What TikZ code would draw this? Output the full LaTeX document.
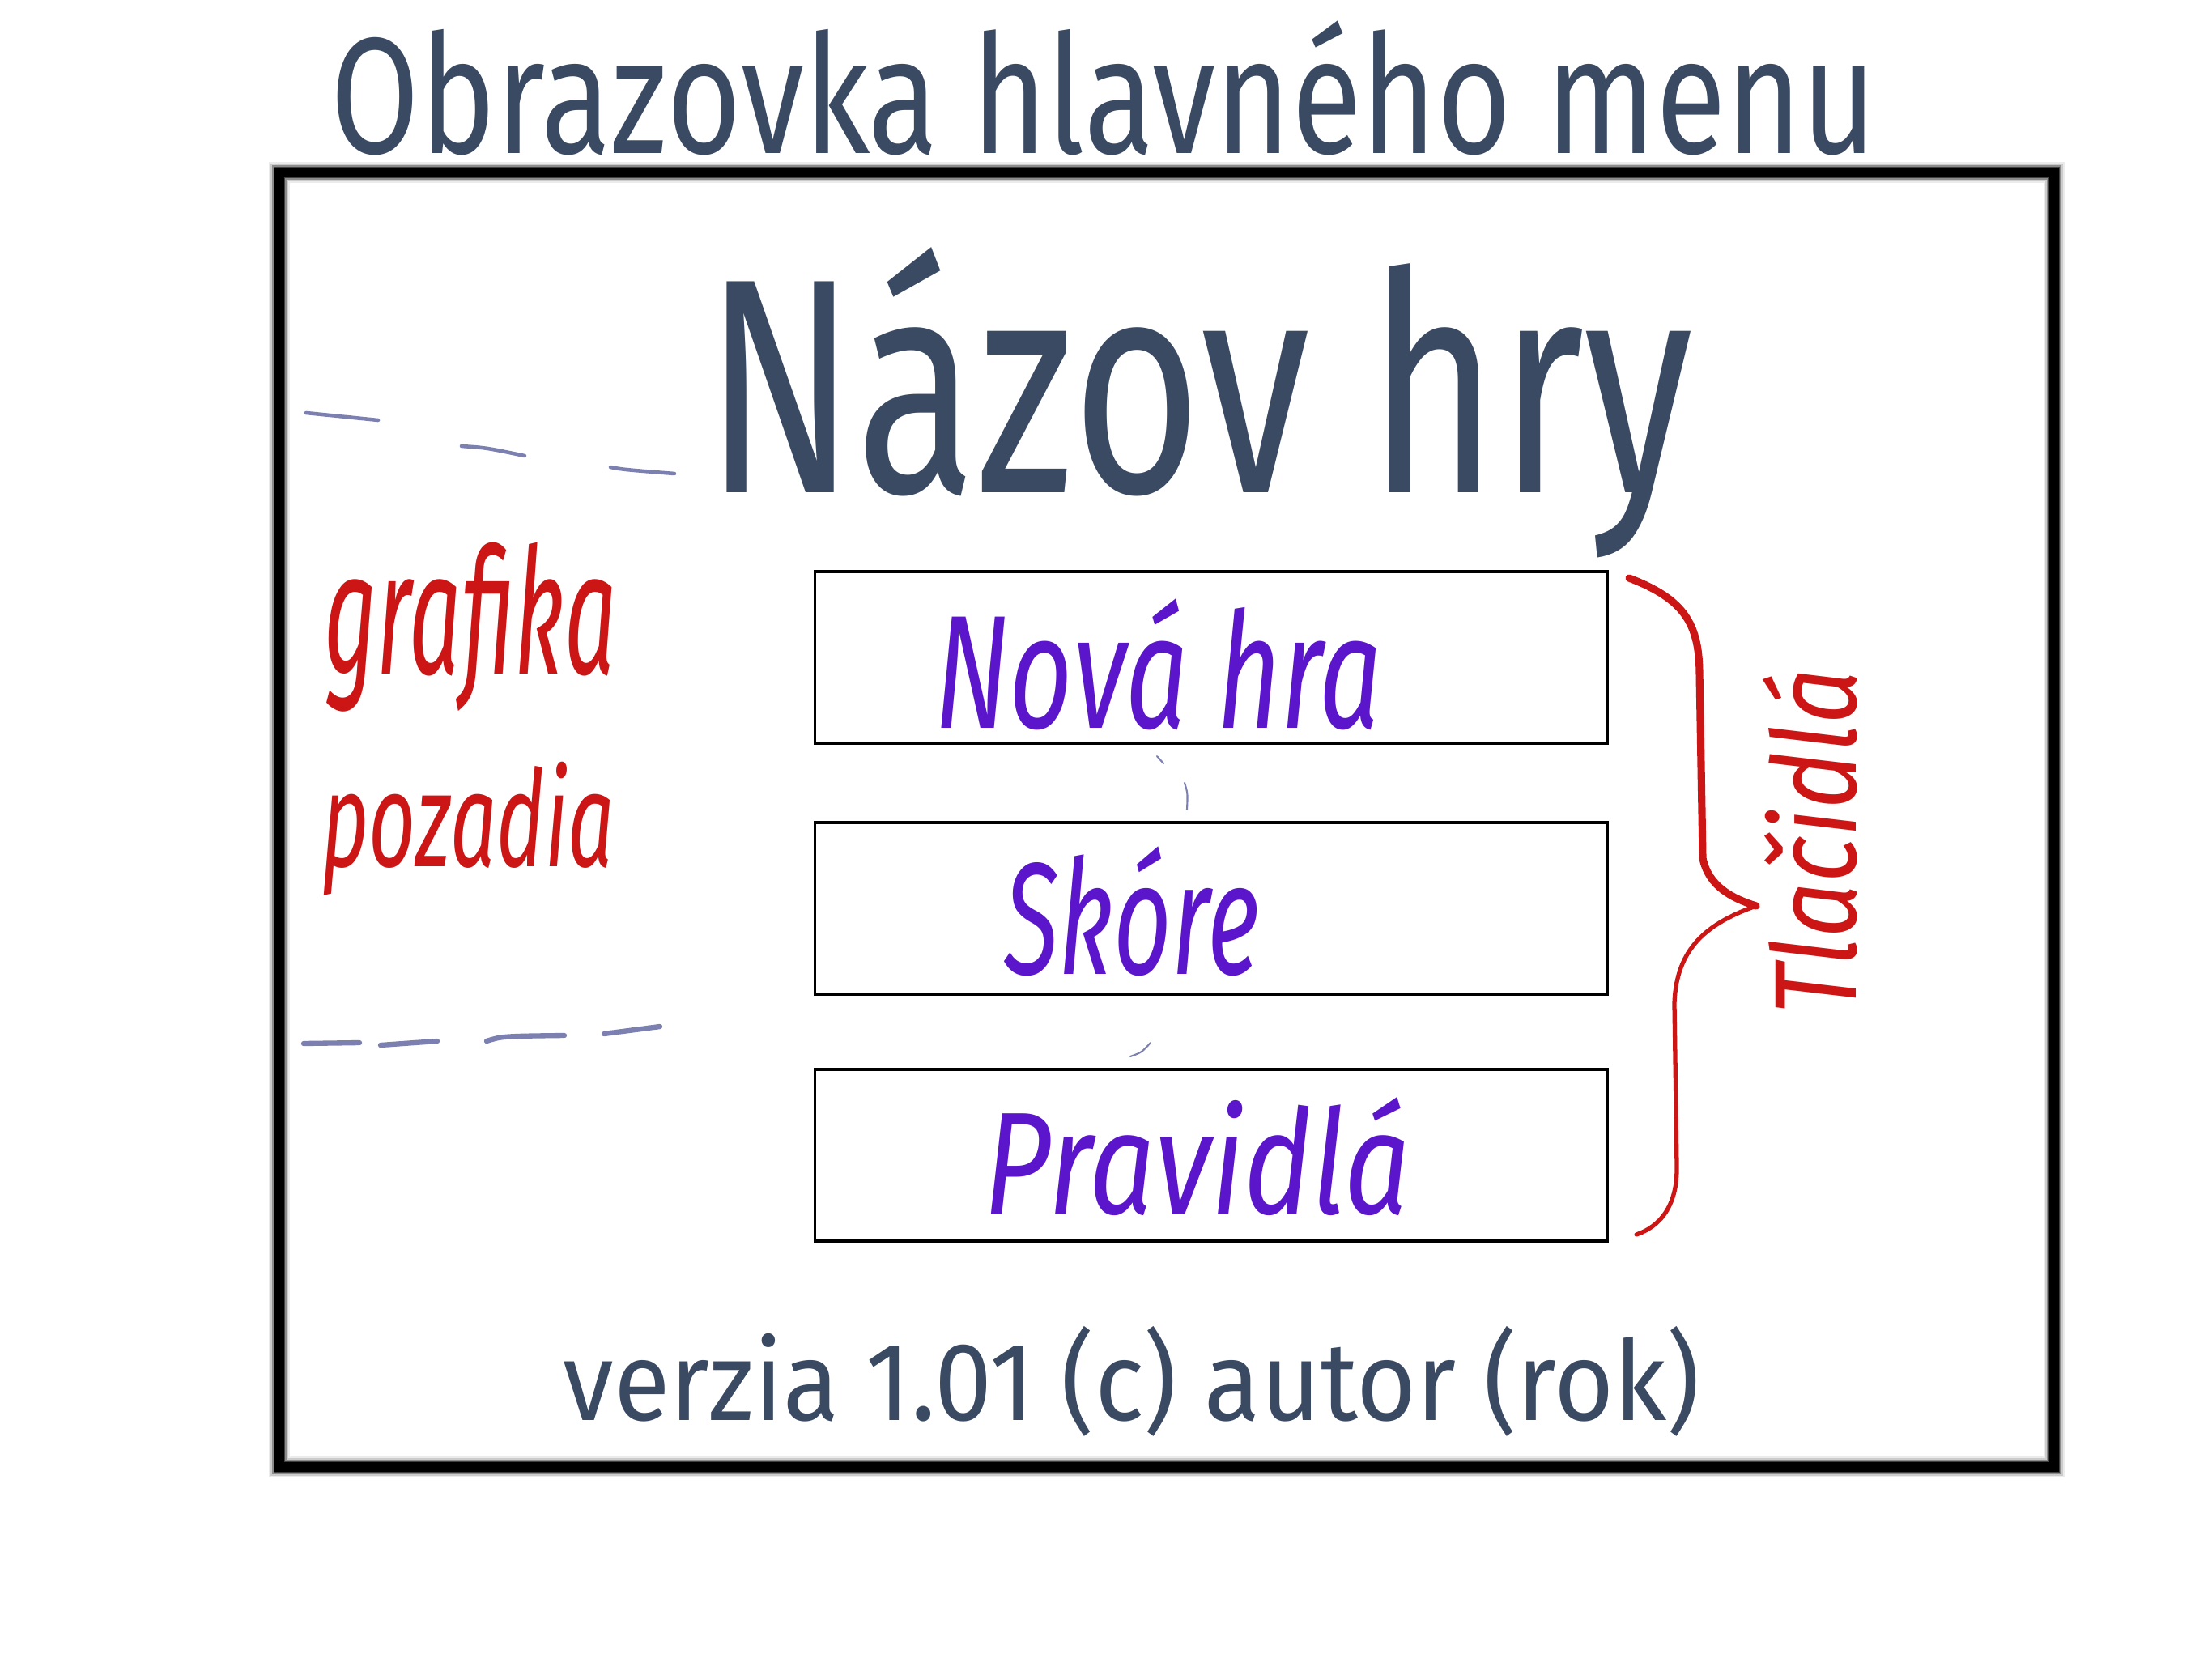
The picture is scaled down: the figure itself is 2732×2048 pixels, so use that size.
\documentclass[tikz,border=0pt]{standalone}
\usepackage{fontspec}
\usepackage{graphicx}
\newfontfamily\hand{Fira Sans}
\definecolor{slate}{HTML}{3B4A63}
\definecolor{violet}{HTML}{5B16CC}
\definecolor{redink}{HTML}{CC1616}
\definecolor{dashink}{HTML}{7C80B0}
\tikzset{
  txt/.style={inner sep=0pt, anchor=center},
  btn/.style={draw=black, line width=0.9pt, inner sep=0pt, minimum width=9.78cm, minimum height=2.12cm},
  dashmark/.style={draw=dashink, line width=1.3pt, line cap=round},
  brace/.style={draw=redink, line cap=round, line join=round},
}
\begin{document}
\begin{tikzpicture}[x=0.01cm, y=-0.01cm]
\useasboundingbox (0,0) rectangle (2732,2048);
\fill[white] (0,0) rectangle (2732,2048);
% frame with soft edge
\draw[black!8, line width=7.5pt] (345,213) rectangle (2537,1812);
\draw[black!20, line width=6.3pt] (345,213) rectangle (2537,1812);
\draw[black!45, line width=5.1pt] (345,213) rectangle (2537,1812);
\draw[black!75, line width=4.2pt] (345,213) rectangle (2537,1812);
\draw[black, line width=3.4pt] (345,213) rectangle (2537,1812);
% title
\node[txt, text=slate] (title) at (1363,109) {\resizebox*{19.08cm}{1.66cm}{\hand Obrazovka hlavného menu}};
\node[txt, text=slate] (game) at (1481,497) {\resizebox*{12.2cm}{3.83cm}{\hand Názov hry}};
% buttons
\node[btn] (b1) at (1496,812) {};
\node[btn] (b2) at (1496,1122) {};
\node[btn] (b3) at (1496,1427) {};
\node[txt, text=violet] (t1) at (1431,821) {\resizebox*{5.52cm}{1.62cm}{\hand\itshape Nová hra}};
\node[txt, text=violet] (t2) at (1398,1126) {\resizebox*{3.15cm}{1.6cm}{\hand\itshape Skóre}};
\node[txt, text=violet] (t3) at (1479,1429) {\resizebox*{5.26cm}{1.46cm}{\hand\itshape Pravidlá}};
% red labels
\node[txt, text=redink] (g1) at (581,775) {\resizebox*{3.61cm}{2.09cm}{\hand\itshape grafika}};
\node[txt, text=redink] (g2) at (578,1024) {\resizebox*{3.61cm}{1.65cm}{\hand\itshape pozadia}};
\node[txt, text=redink, rotate=90] (tl) at (2236,1040) {\resizebox*{4.27cm}{1.17cm}{\hand\itshape Tlačidlá}};
% brace
\coordinate (bt) at (2012,714);
\coordinate (tip) at (2169,1119);
\coordinate (bb) at (2021,1525);
\draw[brace, line width=2.6pt] (bt) .. controls (2080,740) and (2098,770) .. (2099,830)
  -- (2103,1060) .. controls (2110,1095) and (2140,1110) .. (tip);
\draw[brace, line width=1.5pt] (tip) .. controls (2110,1140) and (2070,1170) .. (2068,1240)
  -- (2071,1440) .. controls (2072,1490) and (2050,1515) .. (bb);
% dashed guides
\draw[dashmark] (378,510) -- (467,519);
\draw[dashmark] (570,551) .. controls (600,553) .. (648,563);
\draw[dashmark] (754,577) .. controls (770,580) .. (833,585);
\draw[dashmark, line width=1.8pt] (375,1289) -- (444,1288);
\draw[dashmark, line width=1.8pt] (470,1291) -- (540,1286);
\draw[dashmark, line width=1.8pt] (601,1286) .. controls (620,1280) .. (697,1279);
\draw[dashmark, line width=1.8pt] (746,1277) -- (815,1268);
% stray marks
\draw[dashmark, line width=0.6pt] (1429,934) -- (1437,943);
\draw[dashmark, line width=0.6pt] (1463,967) .. controls (1467,980) .. (1466,1000);
\draw[dashmark, line width=0.6pt] (1396,1305) .. controls (1410,1300) .. (1421,1288);
% version
\node[txt, text=slate] (ver) at (1398,1706) {\resizebox*{14.03cm}{1.36cm}{\hand verzia 1.01 (c) autor (rok)}};
\end{tikzpicture}
\end{document}
